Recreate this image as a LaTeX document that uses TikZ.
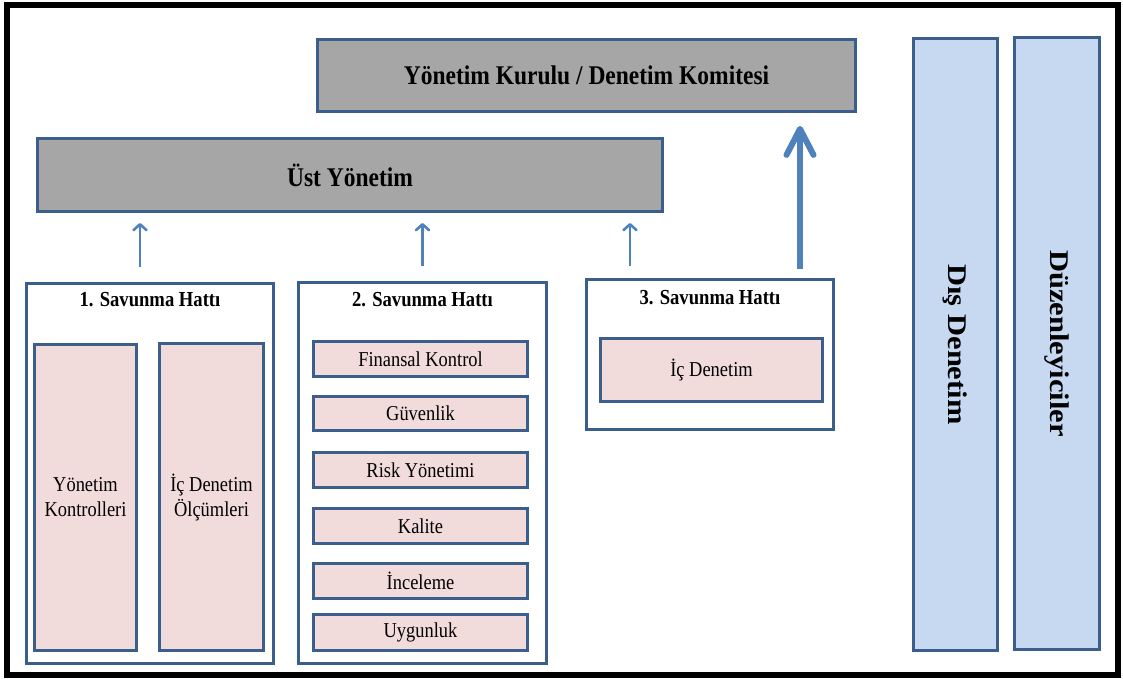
\documentclass[tikz,border=0pt]{standalone}
\usepackage{fontspec}
\setmainfont{Liberation Serif}[FakeStretch=0.87]
\newfontfamily\plainrm{Liberation Serif}
\usetikzlibrary{arrows.meta}
\definecolor{edge}{HTML}{3B5E8C}
\definecolor{grayfill}{HTML}{A6A6A6}
\definecolor{pinkfill}{HTML}{F2DCDB}
\definecolor{bluefill}{HTML}{C6D9F1}
\definecolor{arrowblue}{HTML}{4F81BD}
\tikzset{
  box/.style={draw=edge, line width=2.8pt, rectangle, inner sep=0pt},
  graybox/.style={box, fill=grayfill, font=\bfseries\fontsize{27}{30}\selectfont},
  outerbox/.style={box, fill=white},
  pinkbox/.style={box, fill=pinkfill, align=center, font=\fontsize{21.2}{25}\selectfont},
  bluebox/.style={box, fill=bluefill, rotate=-90, font=\plainrm\bfseries\fontsize{27}{30}\selectfont},
  titletext/.style={font=\bfseries\fontsize{21.4}{24}\selectfont, inner sep=0pt},
  thinarrow/.style={draw=arrowblue, line width=2.6pt, -{Straight Barb[length=6pt,width=13pt,round]}},
  thickarrow/.style={draw=arrowblue, line width=6pt, -{Straight Barb[length=26pt,width=27pt,round]}},
}
\begin{document}
\begin{tikzpicture}[x=1pt,y=-1pt]
\useasboundingbox (0,0) rectangle (1123,678);
\fill[white] (0,0) rectangle (1123,678);
\draw[line width=6pt, black] (7,5) rectangle (1118,675);

% top boxes
\node[graybox, minimum width=538pt, minimum height=72pt] (board) at (586.5,75.5) {Yönetim Kurulu / Denetim Komitesi};
\node[graybox, minimum width=625pt, minimum height=73pt] (ust) at (350,175) {Üst Yönetim};

% line boxes
\node[outerbox, minimum width=247pt, minimum height=380pt] (b1) at (150,473.5) {};
\node[outerbox, minimum width=248pt, minimum height=381pt] (b2) at (422.5,473) {};
\node[outerbox, minimum width=247pt, minimum height=150pt] (b3) at (710,354.5) {};

\node[titletext] (t1) at (150,300) {1. Savunma Hattı};
\node[titletext] (t2) at (422.5,300) {2. Savunma Hattı};
\node[titletext] (t3) at (710,298) {3. Savunma Hattı};

% line 1 contents
\node[pinkbox, minimum width=102pt, minimum height=306pt] (ykon) at (85.5,497.5) {Yönetim\\Kontrolleri};
\node[pinkbox, minimum width=104pt, minimum height=307pt] (icol) at (211.5,497) {İç Denetim\\Ölçümleri};

% line 2 contents
\node[pinkbox, minimum width=214pt, minimum height=35pt] (fin) at (420.5,359) {Finansal Kontrol};
\node[pinkbox, minimum width=214pt, minimum height=34pt] (guv) at (420.5,413.5) {Güvenlik};
\node[pinkbox, minimum width=214pt, minimum height=35pt] (risk) at (420.5,470) {Risk Yönetimi};
\node[pinkbox, minimum width=214pt, minimum height=35pt] (kal) at (420.5,526) {Kalite};
\node[pinkbox, minimum width=214pt, minimum height=35pt] (inc) at (420.5,581) {İnceleme};
\node[pinkbox, minimum width=214pt, minimum height=36pt] (uyg) at (420.5,632.5) {Uygunluk};

% line 3 contents
\node[pinkbox, minimum width=222pt, minimum height=63pt] (icd) at (711.5,370) {İç Denetim};

% right columns
\node[bluebox, minimum width=612pt, minimum height=84pt] (dis) at (955.5,344.5) {\scalebox{1.13}[1]{Dış Denetim}};
\node[bluebox, minimum width=612pt, minimum height=85pt] (duz) at (1057,343.5) {\scalebox{1.13}[1]{Düzenleyiciler}};

% arrows
\draw[thinarrow] ([xshift=-10pt,yshift=15pt]b1.north) -- ([xshift=-10pt,yshift=-10pt]b1.north |- ust.south);
\draw[thinarrow] ([yshift=15pt]b2.north) -- ([yshift=-10pt]b2.north |- ust.south);
\draw[thinarrow] ([xshift=-80pt,yshift=12pt]b3.north) -- ([xshift=-80pt,yshift=-10pt]b3.north |- ust.south);
\draw[thickarrow] ([xshift=90pt,yshift=9pt]b3.north) -- ([xshift=90pt,yshift=-13pt]b3.north |- board.south);
\end{tikzpicture}
\end{document}
